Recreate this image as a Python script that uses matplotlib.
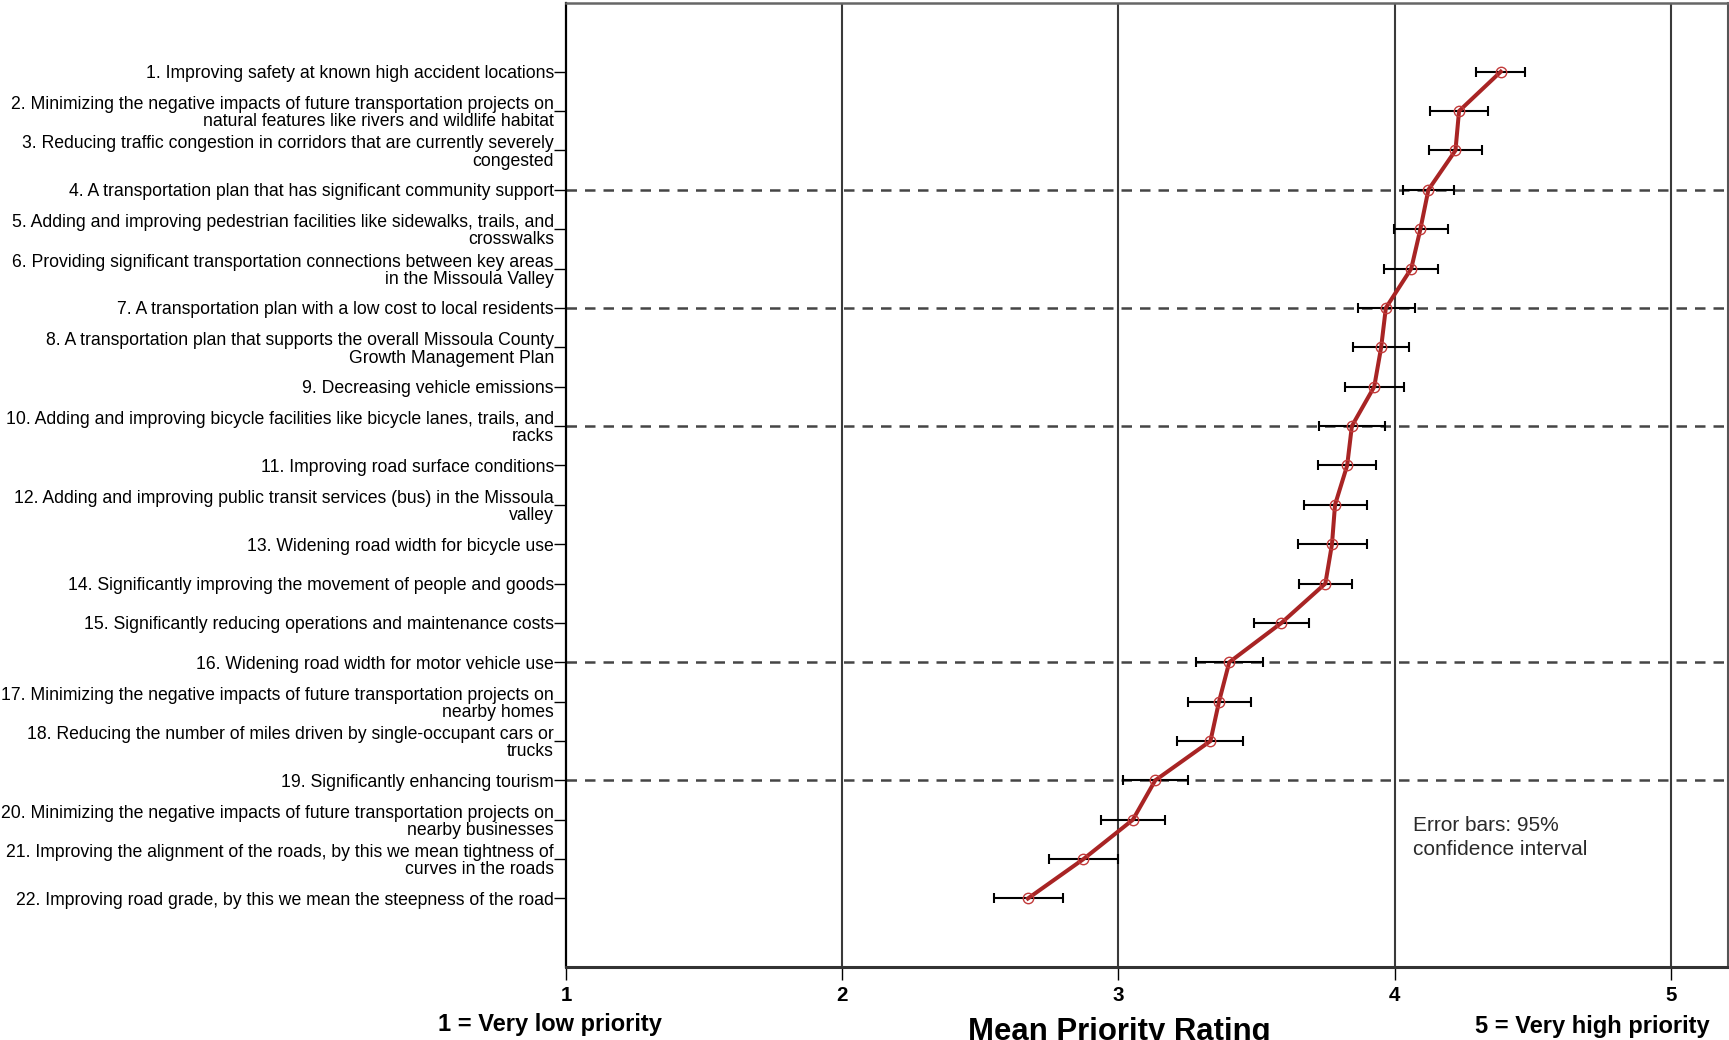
import matplotlib
matplotlib.use("Agg")
import matplotlib.pyplot as plt

plt.rcParams["font.family"] = ["Liberation Sans", "DejaVu Sans"]

ITEMS = [
    "1. Improving safety at known high accident locations",
    "2. Minimizing the negative impacts of future transportation projects on\nnatural features like rivers and wildlife habitat",
    "3. Reducing traffic congestion in corridors that are currently severely\ncongested",
    "4. A transportation plan that has significant community support",
    "5. Adding and improving pedestrian facilities like sidewalks, trails, and\ncrosswalks",
    "6. Providing significant transportation connections between key areas\nin the Missoula Valley",
    "7. A transportation plan with a low cost to local residents",
    "8. A transportation plan that supports the overall Missoula County\nGrowth Management Plan",
    "9. Decreasing vehicle emissions",
    "10. Adding and improving bicycle facilities like bicycle lanes, trails, and\nracks",
    "11. Improving road surface conditions",
    "12. Adding and improving public transit services (bus) in the Missoula\nvalley",
    "13. Widening road width for bicycle use",
    "14. Significantly improving the movement of people and goods",
    "15. Significantly reducing operations and maintenance costs",
    "16. Widening road width for motor vehicle use",
    "17. Minimizing the negative impacts of future transportation projects on\nnearby homes",
    "18. Reducing the number of miles driven by single-occupant cars or\ntrucks",
    "19. Significantly enhancing tourism",
    "20. Minimizing the negative impacts of future transportation projects on\nnearby businesses",
    "21. Improving the alignment of the roads, by this we mean tightness of\ncurves in the roads",
    "22. Improving road grade, by this we mean the steepness of the road",
]
MEANS = [4.384, 4.233, 4.220, 4.122, 4.093, 4.060, 3.968, 3.951, 3.926, 3.845, 3.828,
         3.784, 3.773, 3.749, 3.590, 3.401, 3.364, 3.333, 3.133, 3.052, 2.873, 2.672]
CI_LOW = [4.296, 4.127, 4.124, 4.030, 3.996, 3.960, 3.866, 3.850, 3.819, 3.725, 3.724,
          3.673, 3.650, 3.655, 3.490, 3.280, 3.251, 3.212, 3.016, 2.938, 2.749, 2.551]
CI_HIGH = [4.472, 4.337, 4.316, 4.215, 4.193, 4.157, 4.074, 4.052, 4.034, 3.964, 3.932,
           3.899, 3.899, 3.847, 3.689, 3.522, 3.478, 3.451, 3.251, 3.168, 2.997, 2.798]
X_TICKS = [1, 2, 3, 4, 5]
DASHED_ROWS = [4, 7, 10, 16, 19]

RED = "#A82424"

fig = plt.figure(figsize=(17.29, 10.4), dpi=100)
ax = fig.add_axes([0.3274, 0.0702, 0.6719, 0.9269])

rows = list(range(1, len(ITEMS) + 1))

# reference lines
for x in X_TICKS[1:]:
    ax.axvline(x, color="#3a3a3a", lw=1.5, zorder=1)
for r in DASHED_ROWS:
    ax.axhline(r, color="#454545", lw=1.8, ls=(0, (4.2, 3.2)), zorder=1)

xerr = [[m - lo for m, lo in zip(MEANS, CI_LOW)],
        [hi - m for m, hi in zip(MEANS, CI_HIGH)]]
ax.errorbar(MEANS, rows, xerr=xerr, fmt="none", ecolor="black",
            elinewidth=1.5, capsize=3.3, capthick=1.5, zorder=2)
ax.plot(MEANS, rows, color=RED, lw=2.9, zorder=3)
ax.plot(MEANS, rows, ls="None", marker="o", markersize=7.5,
        markerfacecolor="none", markeredgecolor="#C23A3A",
        markeredgewidth=1.0, zorder=4)

ax.set_xlim(1, 5.206)
ax.set_ylim(len(ITEMS) + 1.74, 1 - 1.745)
ax.set_xticks(X_TICKS)
ax.set_xticklabels([str(t) for t in X_TICKS], fontsize=14.8, fontweight="bold")
ax.set_yticks(rows)
ax.set_yticklabels(ITEMS, fontsize=12.7, linespacing=1.02)
ax.tick_params(axis="y", length=8.3, width=1.0, pad=0.5)
ax.tick_params(axis="x", length=9.4, width=1.0, pad=4.3)

ax.spines["left"].set_linewidth(1.6)
ax.spines["left"].set_color("black")
ax.spines["bottom"].set_linewidth(2.2)
ax.spines["bottom"].set_color("#333333")
ax.spines["top"].set_linewidth(1.8)
ax.spines["top"].set_color("#666666")
ax.spines["right"].set_linewidth(1.5)
ax.spines["right"].set_color("#555555")

ax.text(4.065, 20.45, "Error bars: 95%\nconfidence interval", fontsize=15,
        color="#2a2a2a", ha="left", va="center", linespacing=1.32)

fig.text(0.2533, 0.0085, "1 = Very low priority", fontsize=17, fontweight="bold",
         ha="left", va="baseline")
fig.text(0.8533, 0.0065, "5 = Very high priority", fontsize=17, fontweight="bold",
         ha="left", va="baseline")
fig.text(0.6472, 0.0, "Mean Priority Rating", fontsize=22.4, fontweight="bold",
         ha="center", va="baseline")

fig.savefig("out.png", dpi=100)
